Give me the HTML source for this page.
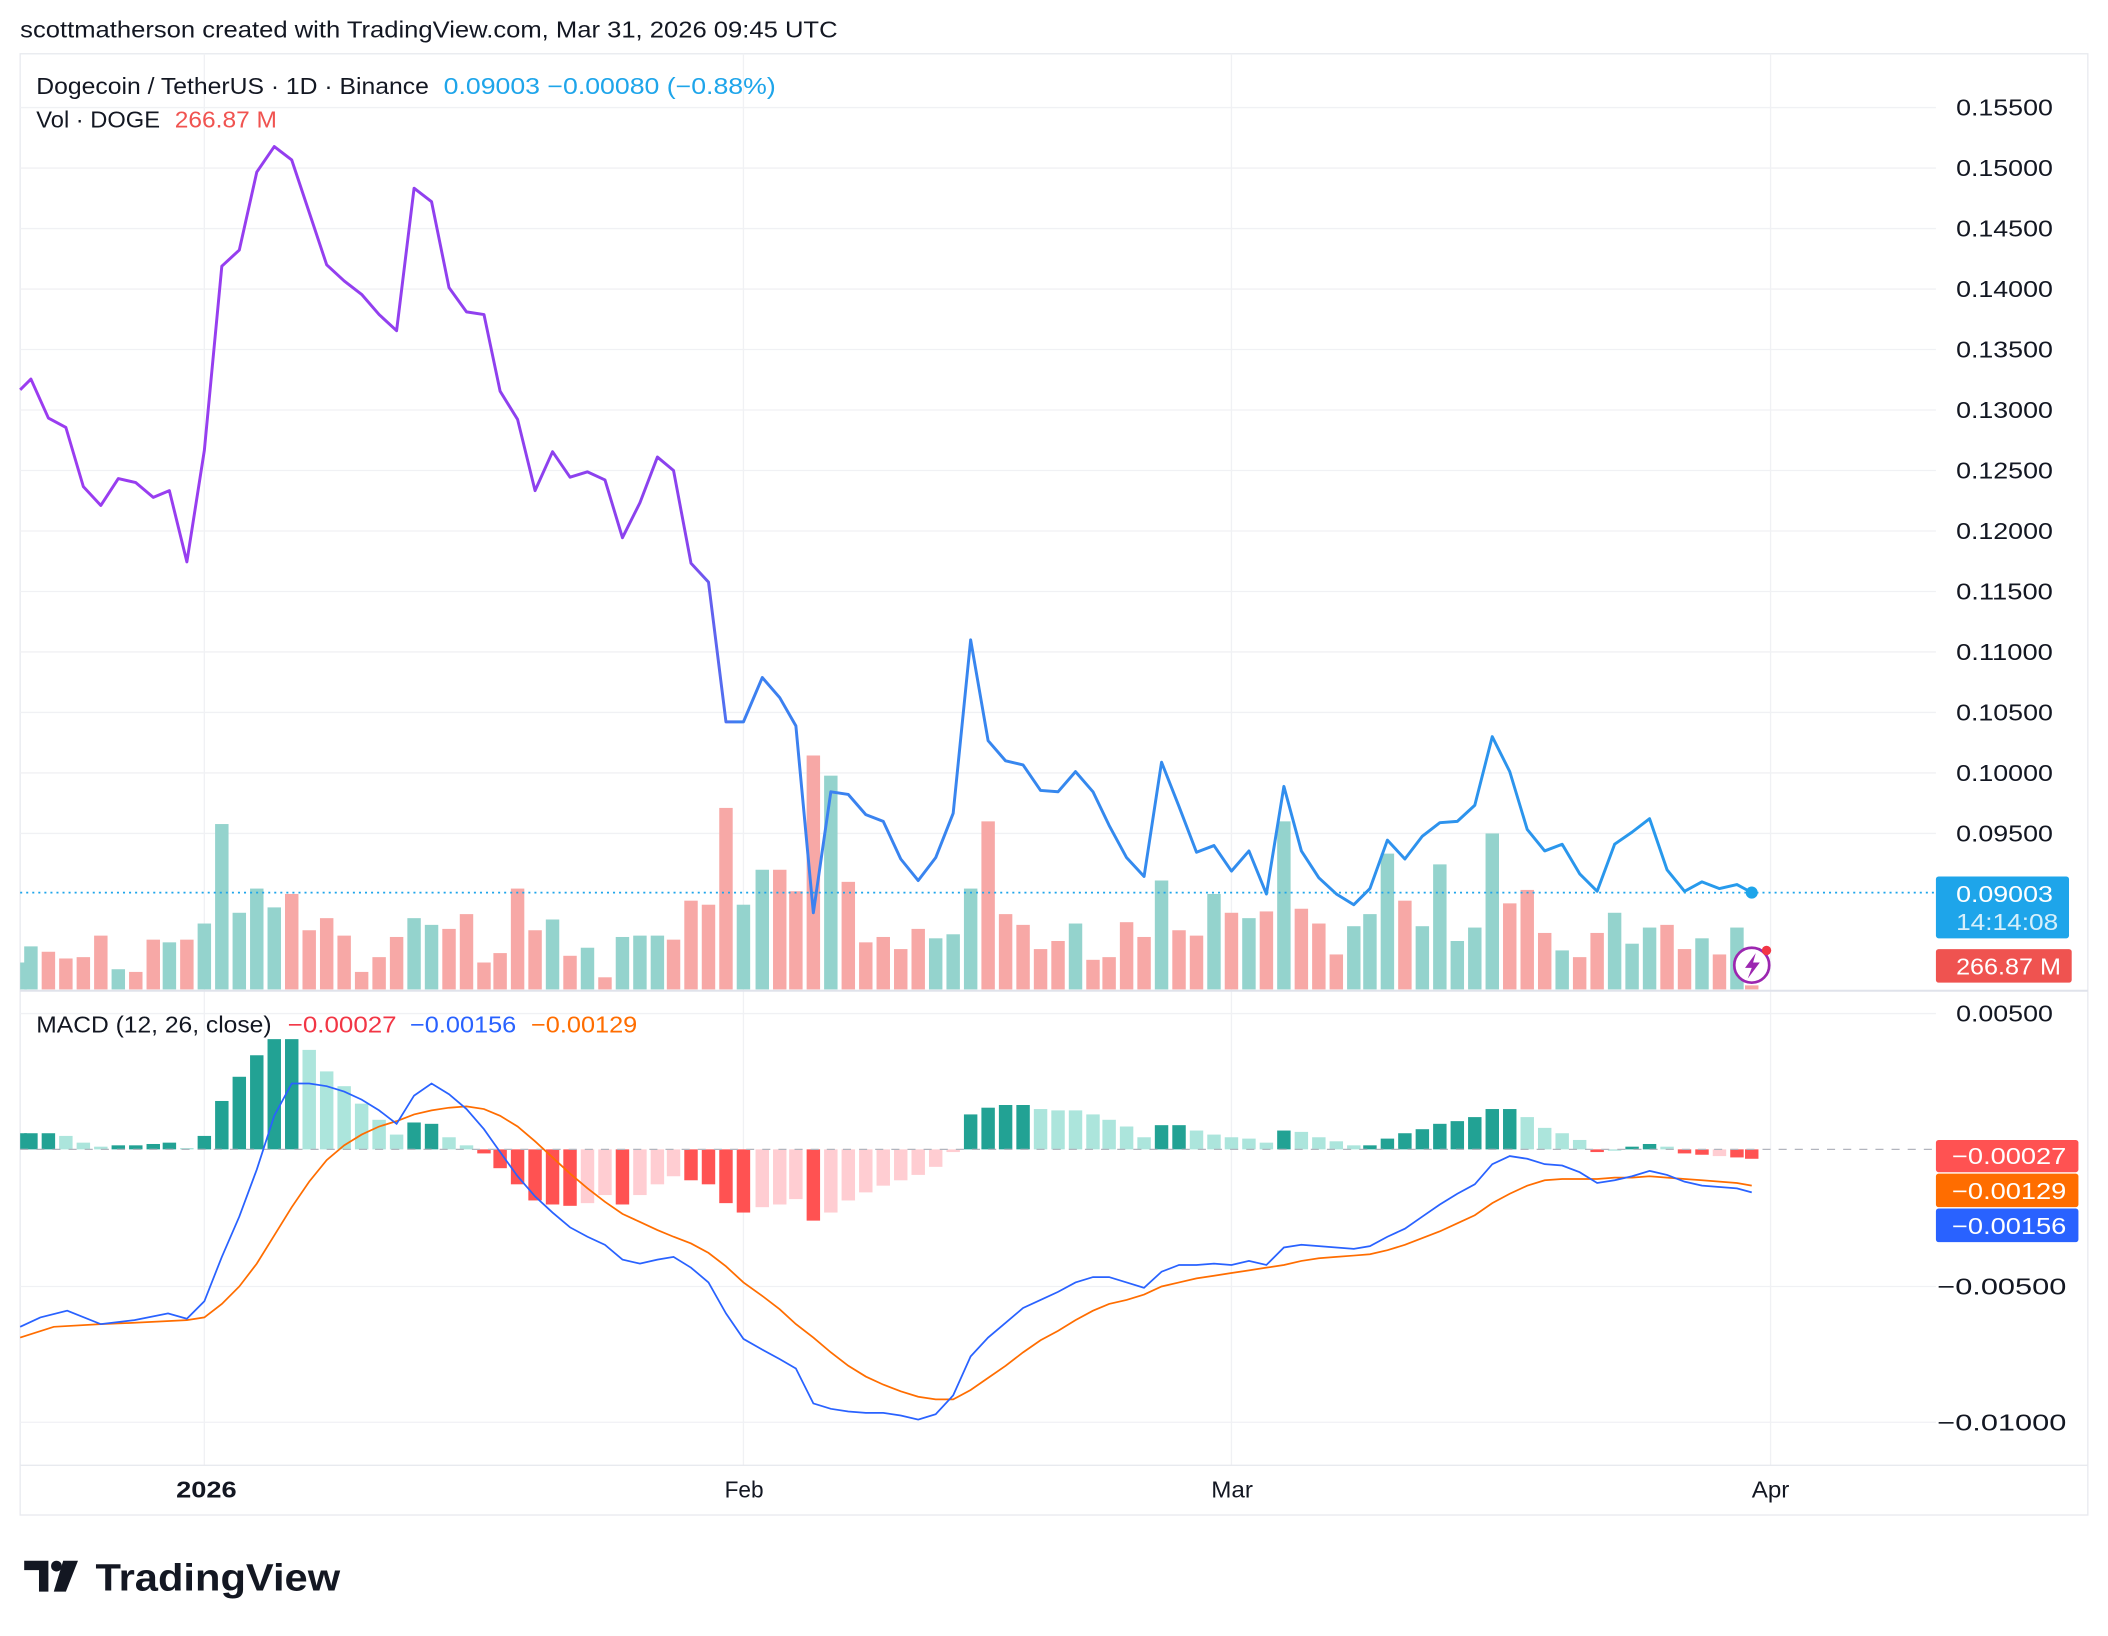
<!DOCTYPE html>
<html><head><meta charset="utf-8">
<style>
html,body{margin:0;padding:0;background:#fff;}
svg{display:block;}
text{font-family:"Liberation Sans",sans-serif;}
</style></head>
<body>
<svg id="s" width="2108" height="1636" viewBox="0 0 1568 1217" preserveAspectRatio="none" xmlns="http://www.w3.org/2000/svg">
<defs>
<linearGradient id="pg" gradientUnits="userSpaceOnUse" x1="0" y1="0" x2="1568" y2="0">
<stop offset="0" stop-color="#9c3cf0"/><stop offset="0.325" stop-color="#8a42ee"/><stop offset="0.35" stop-color="#3d7ff0"/><stop offset="1" stop-color="#1ea5ea"/>
</linearGradient>
</defs>
<rect width="1568" height="1217" fill="#fff"/>
<text x="15" y="28" font-size="17" fill="#131722" textLength="608" lengthAdjust="spacingAndGlyphs">scottmatherson created with TradingView.com, Mar 31, 2026 09:45 UTC</text>
<rect x="15" y="40" width="1538" height="1087" fill="none" stroke="#e8eaef" stroke-width="1"/>
<g id="grid" stroke="#f0f1f4" stroke-width="1"></g>
<g id="vol"></g>
<path id="price" fill="none" stroke="url(#pg)" stroke-width="2.2" stroke-linejoin="round"/>
<line x1="15" y1="664" x2="1440" y2="664" stroke="#1ea5ea" stroke-width="1.3" stroke-dasharray="1.5,3"/>
<circle cx="1303" cy="664" r="4.5" fill="#1ea5ea"/>
<line x1="15" y1="737" x2="1553" y2="737" stroke="#e0e3eb" stroke-width="1.5"/>
<g id="hist"></g>
<line x1="15" y1="855" x2="1440" y2="855" stroke="#b2b5be" stroke-width="1" stroke-dasharray="6,6"/>
<path id="sig" fill="none" stroke="#ff6d00" stroke-width="1.3"/>
<path id="macd" fill="none" stroke="#2962ff" stroke-width="1.3"/>
<line x1="15" y1="1090" x2="1553" y2="1090" stroke="#e8eaef"/>
<circle cx="1303" cy="718" r="13" fill="#fff" stroke="#9c27b0" stroke-width="2"/>
<path d="M1306 709 L1298 720 L1303 720 L1300 728 L1309 716 L1304 716 Z" fill="#9c27b0"/>
<circle cx="1314" cy="707" r="3.5" fill="#f23645"/>
<text x="27" y="70" font-size="17" fill="#131722" textLength="292" lengthAdjust="spacingAndGlyphs">Dogecoin / TetherUS · 1D · Binance</text>
<text x="330" y="70" font-size="17" fill="#1ea5ea" textLength="247" lengthAdjust="spacingAndGlyphs">0.09003  −0.00080 (−0.88%)</text>
<text x="27" y="95" font-size="17" fill="#131722" textLength="92" lengthAdjust="spacingAndGlyphs">Vol · DOGE</text>
<text x="130" y="95" font-size="17" fill="#f05350" textLength="76" lengthAdjust="spacingAndGlyphs">266.87 M</text>
<text x="27" y="768" font-size="17" fill="#131722" textLength="175" lengthAdjust="spacingAndGlyphs">MACD (12, 26, close)</text>
<text x="214" y="768" font-size="17" fill="#f23645" textLength="81" lengthAdjust="spacingAndGlyphs">−0.00027</text>
<text x="305" y="768" font-size="17" fill="#2962ff" textLength="79" lengthAdjust="spacingAndGlyphs">−0.00156</text>
<text x="395" y="768" font-size="17" fill="#ff6d00" textLength="79" lengthAdjust="spacingAndGlyphs">−0.00129</text>
<g id="plab" font-size="17" fill="#131722"></g>
<rect x="1440" y="652" width="99" height="46" rx="2" fill="#1ea5ea"/>
<text x="1455" y="671" font-size="17" fill="#fff" textLength="72" lengthAdjust="spacingAndGlyphs">0.09003</text>
<text x="1455" y="692" font-size="17" fill="#d6f0fb" textLength="76" lengthAdjust="spacingAndGlyphs">14:14:08</text>
<rect x="1440" y="706" width="101" height="25" rx="2" fill="#ef5350"/>
<text x="1455" y="725" font-size="17" fill="#fff" textLength="78" lengthAdjust="spacingAndGlyphs">266.87 M</text>
<text x="1455" y="760" font-size="17" fill="#131722" textLength="72" lengthAdjust="spacingAndGlyphs">0.00500</text>
<text x="1441" y="963" font-size="17" fill="#131722" textLength="96" lengthAdjust="spacingAndGlyphs">−0.00500</text>
<text x="1441" y="1064" font-size="17" fill="#131722" textLength="96" lengthAdjust="spacingAndGlyphs">−0.01000</text>
<rect x="1440" y="848" width="106" height="24" rx="2" fill="#ff5252"/>
<text x="1452" y="866" font-size="17" fill="#fff" textLength="85" lengthAdjust="spacingAndGlyphs">−0.00027</text>
<rect x="1440" y="873" width="106" height="25" rx="2" fill="#ff6d00"/>
<text x="1452" y="892" font-size="17" fill="#fff" textLength="85" lengthAdjust="spacingAndGlyphs">−0.00129</text>
<rect x="1440" y="899" width="106" height="25" rx="2" fill="#2962ff"/>
<text x="1452" y="918" font-size="17" fill="#fff" textLength="85" lengthAdjust="spacingAndGlyphs">−0.00156</text>
<text x="131" y="1114" font-size="17" font-weight="bold" fill="#131722" textLength="45" lengthAdjust="spacingAndGlyphs">2026</text>
<text x="539" y="1114" font-size="17" fill="#131722" textLength="29" lengthAdjust="spacingAndGlyphs">Feb</text>
<text x="901" y="1114" font-size="17" fill="#131722" textLength="31" lengthAdjust="spacingAndGlyphs">Mar</text>
<text x="1303" y="1114" font-size="17" fill="#131722" textLength="28" lengthAdjust="spacingAndGlyphs">Apr</text>
<path d="M18 1161 H36 V1184 H29 V1168 H18 Z" fill="#131722"/>
<circle cx="42" cy="1165" r="4" fill="#131722"/>
<path d="M47 1161 H58 L49 1184 H40 Z" fill="#131722"/>
<text x="71" y="1183" font-size="28" font-weight="bold" fill="#131722" textLength="182" lengthAdjust="spacingAndGlyphs">TradingView</text>
</svg>
<script>
var NS="http://www.w3.org/2000/svg";
function el(p,t,a){var e=document.createElementNS(NS,t);for(var k in a)e.setAttribute(k,a[k]);p.appendChild(e);return e;}
var g=document.getElementById('grid');
[152,553,916,1317].forEach(function(x){el(g,'line',{x1:x,y1:40,x2:x,y2:1090});});
var pl=document.getElementById('plab');
var labs=["0.15500","0.15000","0.14500","0.14000","0.13500","0.13000","0.12500","0.12000","0.11500","0.11000","0.10500","0.10000","0.09500"];
labs.forEach(function(l,i){var y=80+i*45;el(g,'line',{x1:15,y1:y,x2:1440,y2:y});var t=el(pl,'text',{x:1455,y:y+6,textLength:72,lengthAdjust:'spacingAndGlyphs'});t.textContent=l;});
el(g,'line',{x1:15,y1:754,x2:1440,y2:754});el(g,'line',{x1:15,y1:957,x2:1440,y2:957});el(g,'line',{x1:15,y1:1058,x2:1440,y2:1058});
var P=[[15,290],[23,282],[36,311],[49,318],[62,362],[75,376],[88,356],[101,359],[114,370],[126,365],[139,418],[152,335],[165,198],[178,186],[191,128],[204,109],[217,119],[230,158],[243,197],[256,209],[269,219],[282,234],[295,246],[308,140],[321,150],[334,214],[347,232],[360,234],[372,291],[385,312],[398,365],[411,336],[424,355],[437,351],[450,357],[463,400],[476,374],[489,340],[501,350],[514,419],[527,433],[540,537],[553,537],[567,504],[580,519],[592,540],[605,679],[618,589],[631,591],[644,606],[657,611],[670,639],[683,655],[696,638],[709,605],[722,476],[735,551],[748,566],[761,569],[774,588],[787,589],[800,574],[813,589],[825,614],[838,638],[851,652],[864,567],[877,600],[890,634],[903,629],[916,648],[929,633],[942,665],[955,585],[968,633],[981,653],[994,665],[1007,673],[1019,661],[1032,625],[1045,639],[1058,622],[1071,612],[1084,611],[1097,599],[1110,548],[1123,574],[1136,617],[1149,633],[1162,628],[1175,650],[1188,663],[1201,628],[1214,619],[1227,609],[1240,647],[1253,663],[1266,656],[1279,661],[1292,658],[1303,664]];
function path(a){return 'M'+a.map(function(p){return p[0]+' '+p[1];}).join(' L');}
document.getElementById('price').setAttribute('d',path(P));
var V="15:716g,23:704g,36:708r,49:713r,62:712r,75:696r,88:721g,101:723r,114:699r,126:701g,139:699r,152:687g,165:613g,178:679g,191:661g,204:675g,217:665r,230:692r,243:683r,256:696r,269:723r,282:712r,295:697r,308:683g,321:688g,334:691r,347:680r,360:716r,372:709r,385:661r,398:692r,411:684g,424:711r,437:705g,450:727r,463:697g,476:696g,489:696g,501:699r,514:670r,527:673r,540:601r,553:673g,567:647g,580:647r,592:663r,605:562r,618:577g,631:656r,644:701r,657:697r,670:706r,683:691r,696:698g,709:695g,722:661g,735:611r,748:680r,761:688r,774:706r,787:700r,800:687g,813:714r,825:712r,838:686r,851:697r,864:655g,877:692r,890:696r,903:665g,916:679r,929:683g,942:678r,955:611g,968:676r,981:687r,994:710r,1007:689g,1019:680g,1032:635g,1045:670r,1058:689g,1071:643g,1084:700g,1097:690g,1110:620g,1123:672r,1136:662r,1149:694r,1162:707g,1175:712r,1188:694r,1201:679g,1214:702g,1227:690g,1240:688r,1253:706r,1266:698g,1279:710r,1292:690g,1303:733r";
var vg=document.getElementById('vol');
V.split(',').forEach(function(s){var x=+s.split(':')[0],r=s.split(':')[1],y=parseInt(r),c=r.slice(-1);var x0=Math.max(15,x-5);el(vg,'rect',{x:x0,y:y,width:x+5-x0,height:736-y,fill:c=='g'?'#94d3cd':'#f7a8a6'});});
var H="15:843d,23:843d,36:843d,49:845l,62:850l,75:853l,88:852d,101:852d,114:851d,126:850d,139:854l,152:845d,165:819d,178:801d,191:785d,204:773d,217:773d,230:781l,243:797l,256:808l,269:821l,282:833l,295:844l,308:835d,321:836d,334:846l,347:852l,360:858r,372:869r,385:881r,398:893r,411:896r,424:897r,437:895p,450:889p,463:896r,476:889p,489:881p,501:875p,514:878r,527:881r,540:895r,553:902r,567:898p,580:896p,592:892p,605:908r,618:902p,631:893p,644:887p,657:882p,670:878p,683:874p,696:868p,709:857p,722:829d,735:824d,748:822d,761:822d,774:825l,787:826l,800:826l,813:829l,825:833l,838:838l,851:846l,864:837d,877:837d,890:841l,903:844l,916:846l,929:847l,942:850l,955:841d,968:842l,981:846l,994:849l,1007:852l,1019:852d,1032:847d,1045:843d,1058:840d,1071:836d,1084:834d,1097:831d,1110:825d,1123:825d,1136:831l,1149:839l,1162:843l,1175:848l,1188:857r,1201:856l,1214:853d,1227:851d,1240:853l,1253:858r,1266:859r,1279:860p,1292:861r,1303:862r";
var cols={d:'#22a294',l:'#ace5dc',r:'#ff5252',p:'#ffcdd2'};
var hg=document.getElementById('hist');
H.split(',').forEach(function(s){var x=+s.split(':')[0],r=s.split(':')[1],y=parseInt(r),c=r.slice(-1);var x0=Math.max(15,x-5);var t=Math.min(y,855),h=Math.max(Math.abs(855-y),1);el(hg,'rect',{x:x0,y:t,width:x+5-x0,height:h,fill:cols[c]});});
function parse(s){return s.split(',').map(function(q){var a=q.split(':');return[+a[0],+a[1]];});}
var M="15:987,30:980,50:975,75:985,100:982,125:977,139:981,152:968,165:935,178:905,191:870,204:830,217:806,230:806,243:808,256:812,269:818,282:826,295:836,308:815,321:806,334:814,347:825,360:840,372:857,385:875,398:890,411:902,424:913,437:920,450:926,463:937,476:940,489:937,501:935,514:943,527:954,540:977,553:996,567:1004,580:1011,592:1018,605:1044,618:1048,631:1050,644:1051,657:1051,670:1053,683:1056,696:1052,709:1038,722:1009,735:995,748:984,761:973,774:967,787:961,800:954,813:950,825:950,838:954,851:958,864:946,877:941,890:941,903:940,916:941,929:938,942:941,955:928,968:926,981:927,994:928,1007:929,1019:927,1032:920,1045:914,1058:905,1071:896,1084:888,1097:881,1110:866,1123:860,1136:862,1149:866,1162:867,1175:872,1188:880,1201:878,1214:875,1227:871,1240:874,1253:879,1266:882,1279:883,1292:884,1303:887";
var S="15:995,40:987,75:985,100:984,139:982,152:980,165:970,178:957,191:940,204:919,217:898,230:879,243:863,256:852,269:844,282:838,295:834,308:829,321:826,334:824,347:823,360:825,372:830,385:838,398:849,411:861,424:873,437:884,450:894,463:903,476:909,489:915,501:920,514:925,527:932,540:942,553:954,567:964,580:974,592:985,605:995,618:1006,631:1016,644:1024,657:1030,670:1035,683:1039,696:1041,709:1041,722:1034,735:1025,748:1016,761:1006,774:997,787:990,800:982,813:975,825:970,838:967,851:963,864:957,877:954,890:951,903:949,916:947,929:945,942:943,955:941,968:938,981:936,994:935,1007:934,1019:933,1032:930,1045:926,1058:921,1071:916,1084:910,1097:904,1110:895,1123:888,1136:882,1149:878,1162:877,1175:877,1188:877,1201:876,1214:876,1227:875,1240:876,1253:877,1266:878,1279:879,1292:880,1303:882";
document.getElementById('macd').setAttribute('d',path(parse(M)));
document.getElementById('sig').setAttribute('d',path(parse(S)));
</script>
</body></html>
